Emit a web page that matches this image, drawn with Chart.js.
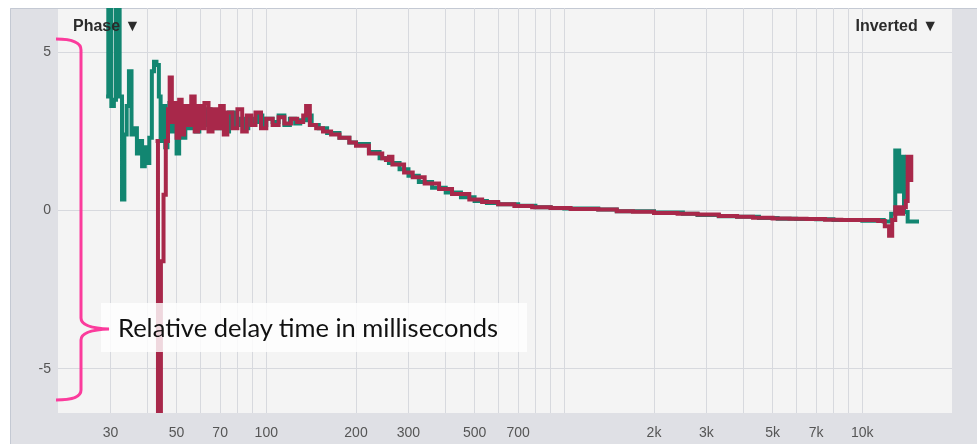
<!DOCTYPE html>
<html lang="en">
<head>
  <meta charset="UTF-8">
  <title>Relative delay</title>
  <script src="https://cdn.jsdelivr.net/npm/chart.js"></script>
  <style>
    html, body { margin: 0; padding: 0; background: white; }
    #wrap { position: relative; width: 977px; height: 444px; overflow: hidden; }
    canvas { position: absolute; left: 0; top: 0; }
    .menu {
      position: absolute; top: 17px;
      font: bold 16px "Liberation Sans", Arial, sans-serif;
      color: #2b2b2b;
    }
    #note {
      position: absolute; left: 101px; top: 303px; width: 426px; height: 49px;
      background: rgba(255, 255, 255, 0.82);
      font: 25.5px Lato, sans-serif; color: #111;
      line-height: 49px; padding-left: 17px; box-sizing: border-box; white-space: nowrap;
    }
    svg { position: absolute; left: 0; top: 0; }
  </style>
</head>
<body>
<div id="wrap">
  <canvas id="chart" width="977" height="444"></canvas>
  <div class="menu" style="left:73px">Phase ▼</div>
  <div class="menu" style="right:39px">Inverted ▼</div>
  <div id="note">Relative delay time in milliseconds</div>
  <svg width="977" height="444">
    <path d="M56 39 Q81 39 81 50 L81 318 Q81 328 109 329 Q81 330 81 340 L81 390 Q81 400 56 400"
          fill="none" stroke="#fb3b9c" stroke-width="3" />
  </svg>
</div>

<script>
  // frequencies in Hz, delay in ms
  const tealFreq = [29.0, 29.5, 30.2, 30.8, 31.3, 32.2, 32.8, 33.4, 34.0, 34.6, 35.3, 36.0, 36.8, 37.5, 38.3, 39.1, 39.9,
    40.5, 41.3, 42.0, 42.8, 43.6, 44.2, 45.0, 45.8, 46.6, 47.3, 48.2, 49.0, 50, 51, 52, 53.5, 55, 56.5, 58, 59.6,
    61, 63, 65, 67, 69, 71, 73, 75, 78, 81, 84, 87, 90, 94, 97, 100, 105, 110, 115, 120, 125, 130, 136, 142, 150,
    160, 176, 190, 200, 221, 240, 258, 280, 300, 325, 360, 400, 450, 500, 550, 600, 700, 800, 900, 1000, 1300,
    1500, 2000, 2500, 2800, 3300, 3800, 4500, 5200, 6000, 7000, 8000, 9000, 10000, 11000, 11800, 12500, 12900,
    13300, 13600, 13800, 14200, 15500];
  const tealVals = [3.6, 6.8, 3.3, 3.5, 6.8, 3.6, 0.35, 2.4, 3.3, 4.4, 2.4, 2.6, 1.8, 2.2, 1.4, 2.0, 1.5,
    2.3, 4.4, 4.7, 4.6, 3.6, 2.2, 3.3, 2.0, 2.9, 3.4, 2.5, 3.3, 1.8, 2.9, 2.3, 3.0, 2.6, 3.1, 2.5, 3.0,
    2.7, 3.2, 2.6, 3.1, 2.6, 3.0, 2.5, 3.1, 2.7, 2.9, 2.6, 2.9, 2.8, 3.0, 2.7, 2.9, 2.8, 3.0, 2.7, 2.9, 2.75, 2.85, 3.0, 2.7, 2.6,
    2.45, 2.3, 2.15, 2.1, 1.85, 1.65, 1.5, 1.3, 1.1, 0.9, 0.72, 0.57, 0.42, 0.3, 0.24, 0.2, 0.15, 0.1, 0.08, 0.06, 0.03,
    -0.02, -0.06, -0.1, -0.14, -0.18, -0.2, -0.24, -0.26, -0.27, -0.28, -0.3, -0.3, -0.32, -0.3, -0.35, -0.1, 1.9,
    0.6, 1.7, -0.05, -0.35, -0.35];

  const redFreq = [42.5, 43.3, 44.3, 45.2, 46.0, 46.8, 47.4, 48.2, 49.0, 50, 51, 52, 53, 54.5, 56, 57.5, 59, 60.5,
    62, 64, 66, 68, 70, 72, 74, 77, 80, 83, 86, 89, 92, 96, 100, 105, 110, 115, 121, 127, 133, 136, 140, 147, 155,
    165, 176, 190, 200, 221, 245, 252, 258, 265, 290, 310, 340, 380, 420, 480, 530, 600, 680, 780, 900, 1050, 1300,
    1500, 1700, 2000, 2400, 2800, 3300, 3800, 4300, 5000, 5700, 6500, 7500, 8500, 9500, 10500, 11300, 11900, 12300,
    12600, 12900, 13300, 13700, 14000, 14200, 14600];
  const redVals = [2.2, -7, -1.6, 0.5, 2.2, 3.2, 4.2, 2.8, 3.4, 2.3, 3.5, 2.4, 3.3, 2.7, 3.6, 2.5, 3.3, 2.6,
    3.4, 2.5, 3.2, 2.6, 3.3, 2.4, 3.1, 2.6, 3.2, 2.5, 3.0, 2.7, 3.1, 2.6, 2.9, 2.7, 2.95, 2.75, 2.9, 2.8, 3.0, 3.3, 2.7, 2.6, 2.5,
    2.4, 2.3, 2.15, 2.05, 1.8, 1.65, 1.6, 1.7, 1.45, 1.2, 1.05, 0.85, 0.68, 0.52, 0.35, 0.27, 0.2, 0.14, 0.1, 0.08, 0.05, 0.03,
    -0.02, -0.04, -0.08, -0.1, -0.13, -0.17, -0.2, -0.23, -0.25, -0.26, -0.27, -0.29, -0.3, -0.3, -0.3, -0.33, -0.5, -0.8,
    -0.3, 0.1, -0.1, 0.1, 0.3, 1.7, 0.9];

  const xGrid = [30, 40, 50, 60, 70, 80, 90, 100, 200, 300, 400, 500, 600, 700, 800, 900,
    1000, 2000, 3000, 4000, 5000, 6000, 7000, 8000, 9000, 10000];
  const xLabels = [30, 50, 70, 100, 200, 300, 500, 700, 2000, 3000, 5000, 7000, 10000];
  const yTicks = [-5, 0, 5];

  const toPts = (f, v) => f.map((x, i) => ({ x: x, y: v[i] }));

  const backdrop = {
    id: 'backdrop',
    beforeDraw(chart) {
      const c = chart.ctx, a = chart.chartArea;
      c.save();
      c.fillStyle = '#ffffff';
      c.fillRect(0, 0, chart.width, chart.height);
      c.fillStyle = '#dfe0e5';
      c.fillRect(10, 8, chart.width - 10, chart.height - 8);
      c.strokeStyle = '#c4c9d3';
      c.lineWidth = 1;
      c.beginPath();
      c.moveTo(10.5, chart.height); c.lineTo(10.5, 8.5); c.lineTo(chart.width, 8.5);
      c.stroke();
      c.fillStyle = '#f4f4f4';
      c.fillRect(a.left, a.top + 1, a.right - a.left, a.bottom - a.top - 1);
      c.restore();
    }
  };

  new Chart(document.getElementById('chart'), {
    type: 'line',
    data: {
      datasets: [
        { data: toPts(redFreq, redVals), borderColor: '#a8284a', borderWidth: 4, stepped: true,
          pointRadius: 0, clip: 0, order: 0 },
        { data: toPts(tealFreq, tealVals), borderColor: '#128671', borderWidth: 4, stepped: true,
          pointRadius: 0, clip: 0, order: 1 }
      ]
    },
    options: {
      responsive: false,
      animation: false,
      layout: { padding: { left: 10, top: 8, right: 25, bottom: 0 } },
      plugins: { legend: { display: false }, tooltip: { enabled: false } },
      scales: {
        x: {
          type: 'logarithmic', min: 20, max: 20000,
          afterBuildTicks: s => { s.ticks = xGrid.map(v => ({ value: v })); },
          afterFit: s => { s.height = 31; s.paddingLeft = 0; s.paddingRight = 0; },
          grid: { color: '#d7d9de', drawTicks: false },
          border: { display: false },
          ticks: {
            autoSkip: false, maxRotation: 0, padding: 12, color: '#555',
            font: { family: 'Liberation Sans', size: 14 },
            callback: v => xLabels.includes(v) ? (v >= 1000 ? (v / 1000) + 'k' : String(v)) : ''
          }
        },
        y: {
          min: -6.4, max: 6.4,
          afterBuildTicks: s => { s.ticks = yTicks.map(v => ({ value: v })); },
          afterFit: s => { s.width = 48; s.paddingTop = 0; s.paddingBottom = 0; },
          grid: { color: '#d7d9de', drawTicks: false },
          border: { display: false },
          ticks: { padding: 7, color: '#555', font: { family: 'Liberation Sans', size: 14 } }
        }
      }
    },
    plugins: [backdrop]
  });
</script>
</body>
</html>
